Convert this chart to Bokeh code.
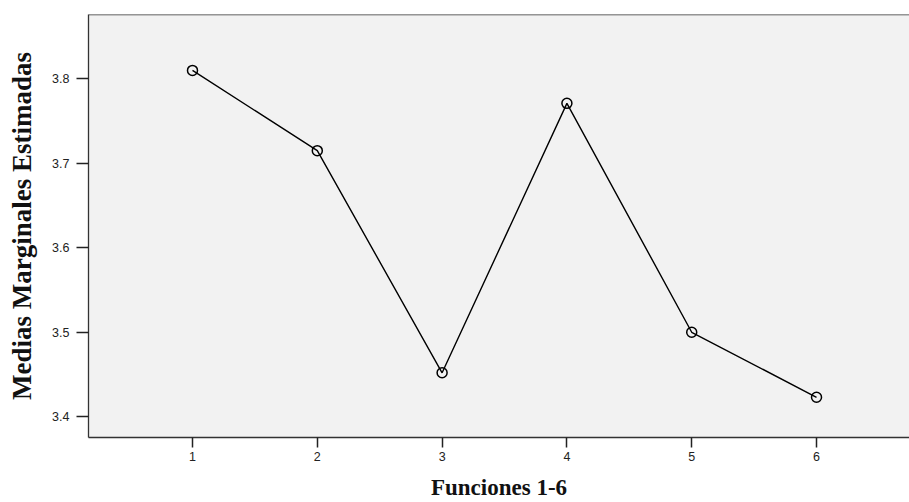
from bokeh.plotting import figure
from bokeh.models import Range1d, FixedTicker, Span
from bokeh.embed import file_html
from bokeh.resources import INLINE

funciones = [1, 2, 3, 4, 5, 6]
medias = [3.810, 3.715, 3.452, 3.771, 3.500, 3.423]
y_ticks = [3.4, 3.5, 3.6, 3.7, 3.8]
x_ticks = [1, 2, 3, 4, 5, 6]

p = figure(width=909, height=502, output_backend="svg", toolbar_location=None,
           x_range=Range1d(0.1667, 6.745), y_range=Range1d(3.3754, 3.8762),
           min_border_left=88, min_border_right=0, min_border_top=14, min_border_bottom=61)

p.border_fill_color = "white"
p.background_fill_color = "#f2f2f2"
p.outline_line_color = None
p.grid.visible = False

p.line(funciones, medias, line_color="black", line_width=1.4)
p.scatter(funciones, medias, marker="circle", size=10, fill_color=None,
          line_color="black", line_width=1.5)

p.add_layout(Span(location=3.8762, dimension="width", line_color="#333333", line_width=1.3))

for ax in (p.xaxis[0], p.yaxis[0]):
    ax.axis_line_color = "#333333"
    ax.axis_line_width = 1.3
    ax.major_tick_line_color = "#222222"
    ax.major_tick_line_width = 1.5
    ax.minor_tick_line_color = None
    ax.major_tick_in = 0
    ax.major_label_text_font = "Liberation Sans"
    ax.major_label_text_font_size = "12.5px"
    ax.major_label_text_color = "#222222"
    ax.axis_label_text_font = "Liberation Serif"
    ax.axis_label_text_font_style = "bold"
    ax.axis_label_text_color = "#111111"

p.xaxis.ticker = FixedTicker(ticks=x_ticks)
p.yaxis.ticker = FixedTicker(ticks=y_ticks)
p.xaxis.major_tick_out = 10
p.yaxis.major_tick_out = 12
p.xaxis.major_label_standoff = 4
p.yaxis.major_label_standoff = 7
p.xaxis.axis_label = "Funciones 1-6"
p.yaxis.axis_label = "Medias Marginales Estimadas"
p.xaxis.axis_label_text_font_size = "23px"
p.yaxis.axis_label_text_font_size = "27px"
p.xaxis.axis_label_standoff = 11
p.yaxis.axis_label_standoff = 12

open("out.html", "w").write(file_html(p, INLINE))
